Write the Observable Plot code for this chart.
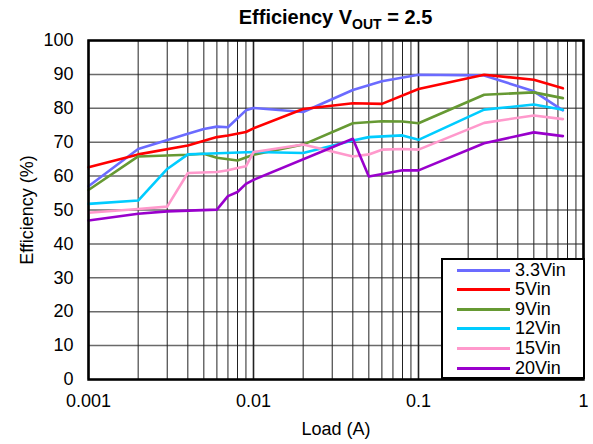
<!DOCTYPE html>
<html>
<head>
<meta charset="utf-8">
<script src="https://cdn.jsdelivr.net/npm/d3@7"></script>
<script src="https://cdn.jsdelivr.net/npm/@observablehq/plot@0.6"></script>
<style>
  body { margin: 0; background: #fff; font-family: "Liberation Sans", Arial, sans-serif; }
  #wrap { position: relative; width: 593px; height: 444px; overflow: hidden; }
  #title { position: absolute; left: 88px; width: 495px; top: 5px; text-align: center;
           font-weight: bold; font-size: 20px; color: #000; line-height: 24px; }
  #title sub { font-size: 14px; vertical-align: -5px; line-height: 0; }
  #legend { position: absolute; left: 441px; top: 258px; width: 140px; height: 117px;
            border: 2px solid #000; background: #fff; }
  .row { position: absolute; left: 0; height: 20px; display: flex; align-items: center; }
  .sw { width: 53px; height: 3px; margin-left: 14px; margin-right: 5px; }
  .lab { font-size: 18px; color: #000; }
</style>
</head>
<body>
<div id="wrap"></div>
<script>
// Load points (A)
const loads = [0.001, 0.002, 0.003, 0.004, 0.005, 0.006, 0.007, 0.008, 0.009, 0.01, 0.02, 0.04, 0.05, 0.06, 0.08, 0.1, 0.25, 0.5, 0.75];
// Efficiency (%) per series, null = no point
const eff3v3 = [57.0, 68.0, null, 72.5, 73.9, 74.6, 74.4, null, 79.4, 80.1, 78.9, 85.4, null, 88.0, null, 89.9, 89.7, 85.0, 79.4];
const eff5v  = [62.6, 66.4, null, 69.0, null, 71.5, 72.0, null, 73.0, 74.1, 79.8, 81.5, null, 81.3, null, 85.7, 89.9, 88.4, 85.9];
const eff9v  = [55.9, 65.8, null, 66.3, 66.6, 65.4, null, 64.6, null, 66.3, 69.3, 75.6, null, 76.2, 76.1, 75.6, 84.0, 84.7, 83.0];
const eff12v = [51.8, 52.8, 62.1, 66.4, 66.6, null, null, null, null, 67.1, 66.8, 70.5, 71.5, null, 72.0, 70.7, 79.6, 81.1, 79.6];
const eff15v = [49.2, 50.3, 51.0, 60.9, null, 61.2, 61.7, 62.4, 62.9, 67.1, 69.3, 65.8, 66.4, 67.8, 68.0, 67.8, 75.7, 77.9, 76.8];
const eff20v = [46.9, 48.9, 49.6, null, null, 50.1, 54.1, 55.3, 57.7, 58.9, null, 71.0, 59.9, null, 61.7, 61.7, 69.7, 72.9, 71.8];

const seriesNames = ["3.3Vin", "5Vin", "9Vin", "12Vin", "15Vin", "20Vin"];
const seriesColors = ["#6b6bff", "#ff0000", "#669933", "#00ccff", "#ff99cc", "#9900cc"];
const seriesValues = [eff3v3, eff5v, eff9v, eff12v, eff15v, eff20v];

const xTicks = [0.001, 0.01, 0.1, 1];
const xTickLabels = ["0.001", "0.01", "0.1", "1"];
const yTicks = [0, 10, 20, 30, 40, 50, 60, 70, 80, 90, 100];

const rows = [];
seriesNames.forEach((name, i) => {
  loads.forEach((l, j) => {
    const v = seriesValues[i][j];
    if (v != null) rows.push({series: name, load: l, eff: v});
  });
});

// minor grid: 1..9 multiples in each decade of the domain
const gridX = [];
for (let e = -3; e < 0; e++) for (let m = 1; m <= 9; m++) gridX.push(+(m * Math.pow(10, e)).toPrecision(3));
gridX.push(1);

const chart = Plot.plot({
  width: 593,
  height: 444,
  marginLeft: 88,
  marginRight: 10,
  marginTop: 40,
  marginBottom: 65,
  style: {fontFamily: "Liberation Sans, Arial, sans-serif", fontSize: "18px", color: "#000", background: "#fff"},
  x: {type: "log", domain: [0.001, 1]},
  y: {domain: [0, 100]},
  color: {domain: seriesNames, range: seriesColors},
  marks: [
    Plot.ruleY(yTicks, {stroke: "#6a6a6a", strokeWidth: 1.5}),
    Plot.ruleX(gridX, {stroke: "#222", strokeWidth: 1}),
    Plot.ruleX(xTicks, {stroke: "#222", strokeWidth: 1.6}),
    Plot.line(rows, {x: "load", y: "eff", z: "series", stroke: "series", strokeWidth: 2.6, strokeLinejoin: "round"}),
    Plot.frame({stroke: "#000", strokeWidth: 2.5}),
    Plot.axisX({ticks: xTicks, tickFormat: (d) => xTickLabels[xTicks.indexOf(d)], tickSize: 0, tickPadding: 15,
      fontSize: 18, label: null}),
    Plot.axisY({ticks: yTicks, tickSize: 0, tickPadding: 15, fontSize: 18, label: null}),
    Plot.text(["Load (A)"], {frameAnchor: "bottom", dy: 55, fontSize: 18, textAnchor: "middle"}),
    Plot.text(["Efficiency (%)"], {frameAnchor: "left", dx: -61, rotate: -90, fontSize: 18, textAnchor: "middle"})
  ]
});

const wrap = document.getElementById("wrap");
wrap.appendChild(chart);

const title = document.createElement("div");
title.id = "title";
title.innerHTML = "Efficiency V<sub>OUT</sub> = 2.5";
wrap.appendChild(title);

const legend = document.createElement("div");
legend.id = "legend";
seriesNames.forEach((name, i) => {
  const r = document.createElement("div");
  r.className = "row";
  r.style.top = (0 + i * 19.6) + "px";
  r.innerHTML = `<div class="sw" style="background:${seriesColors[i]}"></div><span class="lab">${name}</span>`;
  legend.appendChild(r);
});
wrap.appendChild(legend);
</script>
</body>
</html>
